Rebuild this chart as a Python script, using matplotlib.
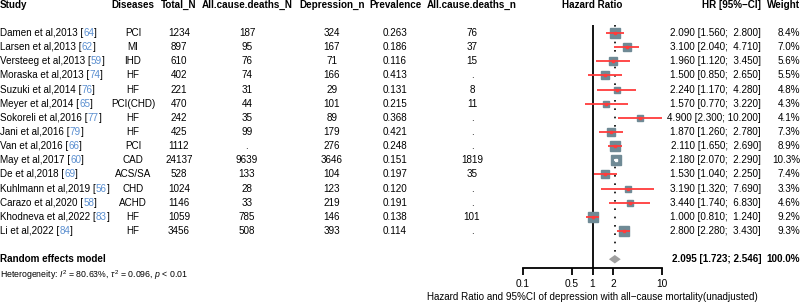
import numpy as np
import matplotlib
matplotlib.use('Agg')
import matplotlib.pyplot as plt

plt.rcParams['font.family'] = ['Liberation Sans', 'DejaVu Sans']
plt.rcParams['mathtext.fontset'] = 'custom'
plt.rcParams['mathtext.rm'] = 'Liberation Sans'
plt.rcParams['mathtext.it'] = 'Liberation Sans:italic'
plt.rcParams['font.size'] = 7.1

studies = ['Damen et al,2013', 'Larsen et al,2013', 'Versteeg et al,2013', 'Moraska et al,2013',
           'Suzuki et al,2014', 'Meyer et al,2014', 'Sokoreli et al,2016', 'Jani et al,2016',
           'Van et al,2016', 'May et al,2017', 'De et al,2018', 'Kuhlmann et al,2019',
           'Carazo et al,2020', 'Khodneva et al,2022', 'Li et al,2022']
refs = ['64', '62', '59', '74', '76', '65', '77', '79', '66', '60', '69', '56', '58', '83', '84']
diseases = ['PCI', 'MI', 'IHD', 'HF', 'HF', 'PCI(CHD)', 'HF', 'HF', 'PCI', 'CAD', 'ACS/SA',
            'CHD', 'ACHD', 'HF', 'HF']
total_n = ['1234', '897', '610', '402', '221', '470', '242', '425', '1112', '24137', '528',
           '1024', '1146', '1059', '3456']
deaths_N = ['187', '95', '76', '74', '31', '44', '35', '99', '.', '9639', '133', '28', '33',
            '785', '508']
depression_n = ['324', '167', '71', '166', '29', '101', '89', '179', '276', '3646', '104',
                '123', '219', '146', '393']
prevalence = ['0.263', '0.186', '0.116', '0.413', '0.131', '0.215', '0.368', '0.421', '0.248',
              '0.151', '0.197', '0.120', '0.191', '0.138', '0.114']
deaths_n = ['76', '37', '15', '.', '8', '11', '.', '.', '.', '1819', '35', '.', '.', '101', '.']
hr = [2.09, 3.10, 1.96, 1.50, 2.24, 1.57, 4.90, 1.87, 2.11, 2.18, 1.53, 3.19, 3.44, 1.00, 2.80]
lo = [1.56, 2.04, 1.12, 0.85, 1.17, 0.77, 2.30, 1.26, 1.65, 2.07, 1.04, 1.32, 1.74, 0.81, 2.28]
hi = [2.80, 4.71, 3.45, 2.65, 4.28, 3.22, 10.20, 2.78, 2.69, 2.29, 2.25, 7.69, 6.83, 1.24, 3.43]
weight = [8.4, 7.0, 5.6, 5.5, 4.8, 4.3, 4.1, 7.3, 8.9, 10.3, 7.4, 3.3, 4.6, 9.2, 9.3]
pooled = (2.095, 1.723, 2.546)

sq_col = '#6f8a95'
red = '#ff3c3c'
blue = '#5b8fd0'

fig = plt.figure(figsize=(8, 3.04), dpi=100)

# text layer: x in pixels, y in row units
tx = fig.add_axes([0, 0, 1, 1])
tx.set_xlim(0, 800)
tx.set_ylim(19.165, -2.334)
tx.axis('off')

n = len(studies)
rows = np.arange(n)
hy = -2

heads = [('Study', 0, 'left'), ('Diseases', 133, 'center'), ('Total_N', 179, 'center'),
         ('All.cause.deaths_N', 247, 'center'), ('Depression_n', 332, 'center'),
         ('Prevalence', 395, 'center'), ('All.cause.deaths_n', 472, 'center'),
         ('Hazard Ratio', 592.5, 'center'), ('HR [95%\u2212CI]', 761, 'right'),
         ('Weight', 800, 'right')]
for t, x, ha in heads:
    tx.text(x, hy, t, ha=ha, va='center', fontweight='bold')

for i in rows:
    t1 = tx.text(0, i, studies[i] + ' [', ha='left', va='center')
    t2 = tx.annotate(refs[i], xy=(1, 0), xycoords=t1, va='bottom', ha='left', color=blue)
    tx.annotate(']', xy=(1, 0), xycoords=t2, va='bottom', ha='left')
    tx.text(133, i, diseases[i], ha='center', va='center')
    tx.text(179, i, total_n[i], ha='center', va='center')
    tx.text(247, i, deaths_N[i], ha='center', va='center')
    tx.text(332, i, depression_n[i], ha='center', va='center')
    tx.text(395, i, prevalence[i], ha='center', va='center')
    tx.text(472, i, deaths_n[i], ha='center', va='center')
    tx.text(761, i, '%.3f [%.3f; %6.3f]' % (hr[i], lo[i], hi[i]), ha='right', va='center')
    tx.text(800, i, '%.1f%%' % weight[i], ha='right', va='center')

ry = 16
tx.text(0, ry, 'Random effects model', ha='left', va='center', fontweight='bold')
tx.text(761, ry, '%.3f [%.3f; %.3f]' % pooled, ha='right', va='center', fontweight='bold')
tx.text(800, ry, '100.0%', ha='right', va='center', fontweight='bold')
tx.text(0, 17.15, r'Heterogeneity: $I^2$ = 80.63%, $\tau^2$ = 0.096, $p$ < 0.01',
        ha='left', va='center', fontsize=6.3)

# forest axes
ax = fig.add_axes([523 / 800, 1 - 268 / 304, 139 / 800, (268 - 25) / 304])
ax.set_xscale('log')
ax.set_xlim(0.1, 10)
ax.set_ylim(16.62, -0.57)
ax.patch.set_alpha(0)
for s in ['left', 'right', 'top']:
    ax.spines[s].set_visible(False)
ax.spines['bottom'].set_linewidth(1.3)
ax.set_yticks([])
ax.set_xticks([0.1, 0.5, 1, 2, 10])
ax.set_xticklabels(['0.1', '0.5', '1', '2', '10'])
ax.xaxis.set_minor_locator(matplotlib.ticker.NullLocator())
ax.tick_params(axis='x', length=5, width=1.3, labelsize=7.3, pad=3)
ax.set_xlabel('Hazard Ratio and 95%CI of depression with all\u2212cause mortality(unadjusted)',
              fontsize=7.1, labelpad=2)

ax.axvline(1, color='black', lw=1.3)
ax.plot([pooled[0], pooled[0]], [-0.57, ry - 0.3], color='black', lw=1.2, ls=(0, (1, 4)))

for i in rows:
    ms = np.sqrt(weight[i]) * 2.3
    ax.plot(hr[i], i, 's', color=sq_col, ms=ms, mec=sq_col, zorder=3)
    half = ms / 2 / 72 * 100
    # check whether CI lies inside the square
    xp = ax.transData.transform([[lo[i], i], [hr[i], i], [hi[i], i]])[:, 0]
    inside = (xp[1] - xp[0] < half) and (xp[2] - xp[1] < half)
    c = 'white' if inside else red
    ax.plot([lo[i], hi[i]], [i, i], color=c, lw=1.3, zorder=4, solid_capstyle='butt')
    ax.plot(hr[i], i, 's', color=c, ms=2.0, zorder=5)

est, l, h = pooled
ax.fill([l, est, h, est], [ry, ry - 0.3, ry, ry + 0.3], color='#a0a0a0', lw=0, zorder=3)

fig.savefig('out.png', dpi=100)
